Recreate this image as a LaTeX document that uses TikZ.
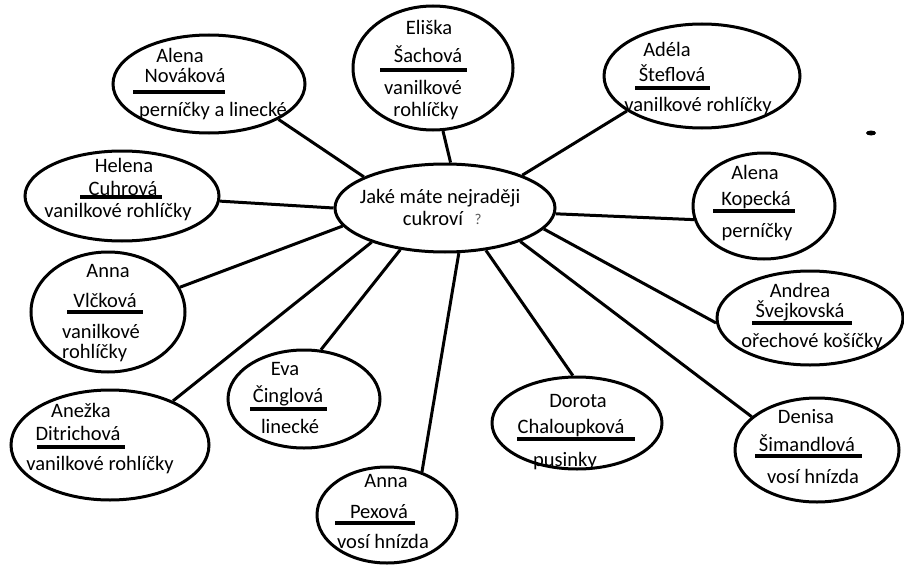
\documentclass[tikz,border=0pt]{standalone}
\usepackage{fontspec}
\setmainfont{Carlito}
\usetikzlibrary{shapes.geometric}
\begin{document}
\begin{tikzpicture}[x=1pt,y=-1pt,
  bub/.style={ellipse, draw, line width=3pt, inner sep=0pt},
  conn/.style={line width=3pt},
  uline/.style={line width=3.5pt},
  txt/.style={anchor=base, inner sep=0pt, font=\fontsize{20.5}{23}\selectfont},
  txtw/.style={anchor=base west, inner sep=0pt, font=\fontsize{20.5}{23}\selectfont}
]
\useasboundingbox (0,0) rectangle (904,567);
\fill[white] (0,0) rectangle (904,567);

% bubbles
\node[bub, minimum width=220pt, minimum height=88pt] (C) at (445,208) {};
\node[bub, minimum width=192pt, minimum height=98pt] (nov) at (209,84) {};
\node[bub, minimum width=160pt, minimum height=124pt] (eli) at (433,68) {};
\node[bub, minimum width=196pt, minimum height=104pt] (ade) at (702,76) {};
\node[bub, minimum width=194pt, minimum height=90pt] (hel) at (122,196) {};
\node[bub, minimum width=154pt, minimum height=120pt] (vlc) at (108,312) {};
\node[bub, minimum width=142pt, minimum height=106pt] (kop) at (764,206) {};
\node[bub, minimum width=186pt, minimum height=94pt] (sve) at (810,318) {};
\node[bub, minimum width=152pt, minimum height=98pt] (eva) at (304,399) {};
\node[bub, minimum width=198pt, minimum height=110pt] (dit) at (110,445) {};
\node[bub, minimum width=170pt, minimum height=92pt] (cha) at (577,423) {};
\node[bub, minimum width=164pt, minimum height=104pt] (den) at (817,450) {};
\node[bub, minimum width=140pt, minimum height=96pt] (pex) at (387,515) {};

% connectors
\draw[conn] (C.159) -- (nov.-27);
\draw[conn] (C.83) -- (eli.-81);
\draw[conn] (C.23) -- (ade.205);
\draw[conn] (C.180) -- (hel.-3);
\draw[conn] (C.-3) -- (kop.191);
\draw[conn] (C.190) -- (vlc.19);
\draw[conn] (C.-12) -- (sve.183);
\draw[conn] (C.205) -- (dit.35);
\draw[conn] (C.223) -- (eva.71);
\draw[conn] (C.-73) -- (pex.51);
\draw[conn] (C.-46) -- (cha.95);
\draw[conn] (C.-24) -- (den.153);

% central text
\node[txt] (q1) at (440,203) {Jaké máte nejraději};
\node[txt] (q2) at (433,225) {cukroví};
\node[txt, font=\fontsize{15}{16}\selectfont, text=black!65] (qm) at (478,224) {?};

% Nováková
\node[txt] (t1a) at (180,63) {Alena};
\node[txt] (t1b) at (185,83) {Nováková};
\draw[uline] (133,92) -- (225,92);
\node[txt] (t1c) at (213,117) {perníčky a linecké};

% Šachová
\node[txt] (t2a) at (429,35) {Eliška};
\node[txt] (t2b) at (428,63) {Šachová};
\draw[uline] (380,70) -- (467,70);
\node[txt] (t2c) at (423,95) {vanilkové};
\node[txt] (t2d) at (426,117) {rohlíčky};

% Šteflová
\node[txt] (t3a) at (667,57) {Adéla};
\node[txt] (t3b) at (672,82) {Šteflová};
\draw[uline] (635,88) -- (710,88);
\node[txt] (t3c) at (698,112) {vanilkové rohlíčky};

% Cuhrová
\node[txt] (t4a) at (124,172) {Helena};
\node[txt] (t4b) at (123,195) {Cuhrová};
\draw[uline] (80,197) -- (162,197);
\node[txt] (t4c) at (118,217) {vanilkové rohlíčky};

% Vlčková
\node[txt] (t5a) at (108,277) {Anna};
\node[txt] (t5b) at (105,307) {Vlčková};
\draw[uline] (67,312) -- (143,312);
\node[txtw] (t5c) at (62,338) {vanilkové};
\node[txtw] (t5d) at (62,358) {rohlíčky};

% Kopecká
\node[txt] (t6a) at (755,179) {Alena};
\node[txt] (t6b) at (756,205) {Kopecká};
\draw[uline] (713,211) -- (795,211);
\node[txt] (t6c) at (757,237) {perníčky};

% Švejkovská
\node[txt] (t7a) at (800,297) {Andrea};
\node[txt] (t7b) at (800,317) {Švejkovská};
\draw[uline] (752,323) -- (852,323);
\node[txt] (t7c) at (812,347) {ořechové košíčky};

% Činglová
\node[txt] (t8a) at (285,375) {Eva};
\node[txt] (t8b) at (288,402) {Činglová};
\draw[uline] (250,409) -- (327,409);
\node[txt] (t8c) at (290,433) {linecké};

% Chaloupková
\node[txt] (t9a) at (578,407) {Dorota};
\node[txt] (t9b) at (571,433) {Chaloupková};
\draw[uline] (517,439) -- (635,439);
\node[txt] (t9c) at (565,466) {pusinky};

% Šimandlová
\node[txt] (t10a) at (806,423) {Denisa};
\node[txt] (t10b) at (807,451) {Šimandlová};
\draw[uline] (755,456) -- (862,456);
\node[txt] (t10c) at (813,483) {vosí hnízda};

% Ditrichová
\node[txt] (t11a) at (81,417) {Anežka};
\node[txt] (t11b) at (78,440) {Ditrichová};
\draw[uline] (37,447) -- (125,447);
\node[txt] (t11c) at (100,470) {vanilkové rohlíčky};

% Pexová
\node[txt] (t12a) at (386,487) {Anna};
\node[txt] (t12b) at (379,518) {Pexová};
\draw[uline] (335,523) -- (415,523);
\node[txt] (t12c) at (383,548) {vosí hnízda};

% stray dot
\fill (871,133) ellipse [x radius=5pt, y radius=2.5pt];
\end{tikzpicture}
\end{document}
